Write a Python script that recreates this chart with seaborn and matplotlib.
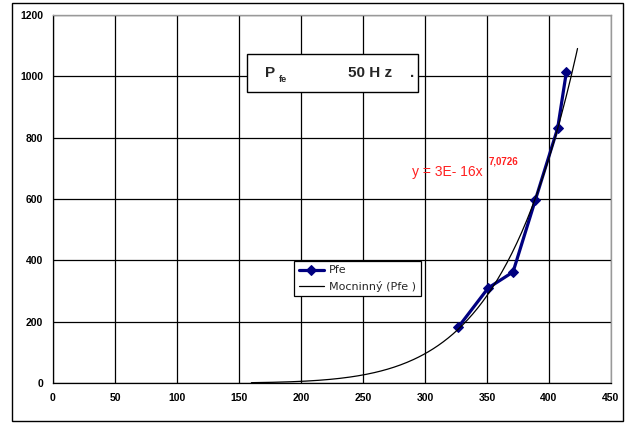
import numpy as np
import pandas as pd
import matplotlib
matplotlib.use('Agg')
import matplotlib.pyplot as plt
from matplotlib.patches import Rectangle
import seaborn as sns

# hodnoty
napeti = [327, 351, 371, 389, 407, 414]
pfe = [183, 310, 362, 597, 831, 1014]
x_ticks = [0, 50, 100, 150, 200, 250, 300, 350, 400, 450]
y_ticks = [0, 200, 400, 600, 800, 1000, 1200]
trend_od, trend_do = 160, 423

sns.set_style('white')
plt.rcParams['font.family'] = ['Liberation Sans', 'DejaVu Sans']

df = pd.DataFrame({'U': napeti, 'Pfe': pfe})

# mocninna regrese jako v Excelu: ln y = b ln x + ln a
b, ln_a = np.polyfit(np.log(df['U']), np.log(df['Pfe']), 1)
xt = np.linspace(trend_od, trend_do, 200)
trend = pd.DataFrame({'U': xt, 'Pfe': np.exp(ln_a) * xt ** b})

fig = plt.figure(figsize=(6.28, 4.23), dpi=100)
ax = fig.add_axes([53 / 628, 40 / 423, 558 / 628, 368 / 423])

sns.lineplot(data=df, x='U', y='Pfe', ax=ax, color='#000080', lw=2.3,
             marker='D', markersize=5.5, markeredgecolor='#000080',
             label='Pfe', zorder=4)
sns.lineplot(data=trend, x='U', y='Pfe', ax=ax, color='black', lw=0.9,
             label='Mocninný (Pfe )', zorder=5)

ax.set_xlim(0, 450)
ax.set_ylim(0, 1200)
ax.set_xticks(x_ticks)
ax.set_yticks(y_ticks)
ax.set_xlabel('')
ax.set_ylabel('')
ax.grid(True, color='black', lw=0.9)
ax.tick_params(axis='both', direction='out', length=4, width=0.9,
               labelsize=7.5, colors='black', pad=3)
for lab in ax.get_xticklabels() + ax.get_yticklabels():
    lab.set_fontweight('bold')
for s in ['left', 'bottom']:
    ax.spines[s].set_color('black')
    ax.spines[s].set_linewidth(0.9)
for s in ['top', 'right']:
    ax.spines[s].set_color('#999999')
    ax.spines[s].set_linewidth(1.0)

# titulek v ramecku
ax.add_patch(Rectangle((0.3468, 0.7916), 0.3068, 0.1024, transform=ax.transAxes,
                       facecolor='white', edgecolor='black', lw=1.0, zorder=6))
ax.text(0.3795, 0.842, 'P', transform=ax.transAxes, fontsize=11,
        fontweight='bold', va='center', zorder=7)
ax.text(0.4045, 0.826, 'fe', transform=ax.transAxes, fontsize=6.5,
        fontweight='bold', va='center', zorder=7)
ax.text(0.5285, 0.842, '50 H z', transform=ax.transAxes, fontsize=11,
        fontweight='bold', va='center', zorder=7)
ax.text(0.6405, 0.842, '.', transform=ax.transAxes, fontsize=11,
        fontweight='bold', va='center', zorder=7)

# rovnice trendu
ax.text(0.643, 0.573, 'y = 3E- 16x', transform=ax.transAxes, fontsize=10,
        color='#ff2020', va='center', zorder=7)
ax.text(0.781, 0.603, '7,0726', transform=ax.transAxes, fontsize=7,
        fontweight='bold', color='#ff2020', va='center', zorder=7)

leg = ax.legend(loc='upper left', bbox_to_anchor=(0.432, 0.3315),
                borderaxespad=0, fancybox=False, framealpha=1,
                edgecolor='black', handlelength=2.3,
                prop={'family': 'DejaVu Sans', 'size': 8},
                borderpad=0.4, labelspacing=0.5, handletextpad=0.45)
leg.get_frame().set_linewidth(0.9)
leg.set_zorder(8)

# vnejsi ramecek grafu
fig.patches.append(Rectangle((12 / 628, 2 / 423), 611 / 628, 418 / 423,
                             transform=fig.transFigure, fill=False,
                             edgecolor='black', lw=1.0))

fig.savefig('out.png', dpi=100)
